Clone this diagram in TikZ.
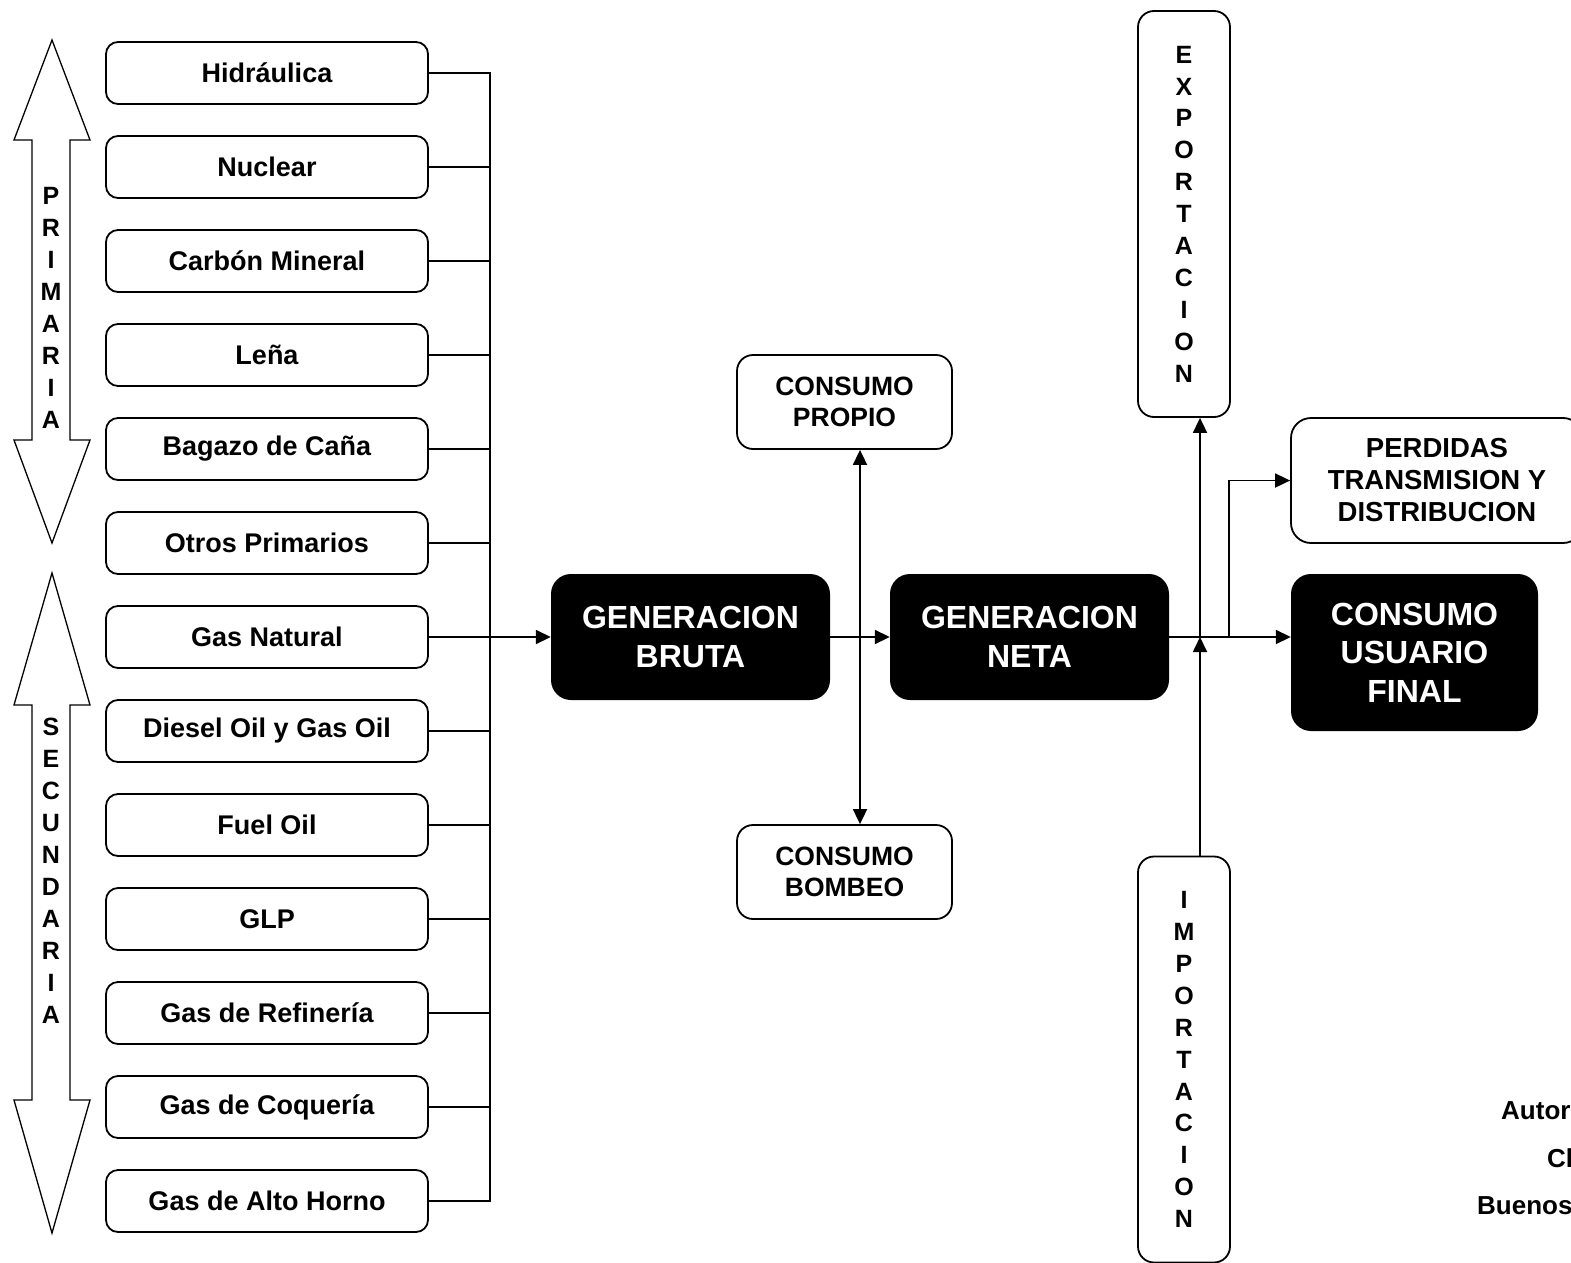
\documentclass[tikz,border=0pt]{standalone}
\usepackage{fontspec}
\setmainfont{Liberation Sans}
\usetikzlibrary{arrows.meta}
\begin{document}
\begin{tikzpicture}[x=1pt,y=-1pt,
  conn/.style={line width=1.8pt},
  arr/.style={conn,-{Triangle[length=15pt,width=14pt]}},
  srcbox/.style={draw,line width=1.8pt,rounded corners=12pt,minimum width=322pt,minimum height=62pt,inner sep=0pt,font=\fontsize{27}{30}\selectfont\bfseries},
  blackbox/.style={fill=black,text=white,rounded corners=20pt,inner sep=0pt,align=center,font=\fontsize{32}{38.5}\selectfont\bfseries},
  whitebox/.style={draw,line width=1.8pt,rounded corners=16pt,inner sep=0pt,align=center},
  vbox/.style={draw,line width=1.8pt,rounded corners=16pt,minimum width=92pt,minimum height=406pt,inner sep=0pt,align=center,font=\fontsize{25}{31.9}\selectfont\bfseries},
  dbl/.style={draw,line width=1.3pt,line join=miter},
  vlab/.style={align=center,inner sep=0pt,font=\fontsize{25}{32}\selectfont\bfseries},
  note/.style={anchor=west,inner sep=0pt,font=\fontsize{26}{30}\selectfont\bfseries}
]
\useasboundingbox (0,0) rectangle (1571,1263);
\clip (0,0) rectangle (1571,1263);

% double arrows
\path[dbl] (52,40) -- (90,140) -- (70,140) -- (70,440) -- (90,440) -- (52,543) -- (14,440) -- (32,440) -- (32,140) -- (14,140) -- cycle;
\node[vlab] (prim) at (51,307.5) {P\\R\\I\\M\\A\\R\\I\\A};
\path[dbl] (52,573) -- (90,705) -- (70,705) -- (70,1100) -- (90,1100) -- (52,1233) -- (14,1100) -- (32,1100) -- (32,705) -- (14,705) -- cycle;
\node[vlab] (sec) at (51,871) {S\\E\\C\\U\\N\\D\\A\\R\\I\\A};

% source boxes
\foreach \i/\t in {1/Hidráulica,2/Nuclear,3/Carbón Mineral,4/Leña,5/Bagazo de Caña,6/Otros Primarios,7/Gas Natural,8/Diesel Oil y Gas Oil,9/Fuel Oil,10/GLP,11/Gas de Refinería,12/Gas de Coquería,13/Gas de Alto Horno}
  \node[srcbox] (s\i) at (267,{73+94*(\i-1)}) {\t};

% bus
\coordinate (bt) at (490,73);
\coordinate (bb) at (490,1201);
\draw[conn] (s1.east) -- (bt) -- (bb) -- (s13.east);
\foreach \i in {2,3,4,5,6,8,9,10,11,12}
  \draw[conn] (s\i.east) -- (s\i.east -| bt);

% main boxes
\node[blackbox,minimum width=279pt,minimum height=126pt] (gb) at (690.5,637) {GENERACION\\BRUTA};
\node[blackbox,minimum width=279pt,minimum height=126pt] (gn) at (1029.5,637) {GENERACION\\NETA};
\node[blackbox,minimum width=247pt,minimum height=157pt] (cu) at (1414.5,652.5) {CONSUMO\\USUARIO\\FINAL};

\node[whitebox,minimum width=215pt,minimum height=94pt,font=\fontsize{26.5}{31}\selectfont\bfseries] (cp) at (844.5,402) {CONSUMO\\PROPIO};
\node[whitebox,minimum width=215pt,minimum height=94pt,font=\fontsize{26.5}{31}\selectfont\bfseries] (cb) at (844.5,872) {CONSUMO\\BOMBEO};
\node[whitebox,minimum width=292pt,minimum height=125pt,rounded corners=20pt,font=\fontsize{27.5}{32}\selectfont\bfseries] (pd) at (1437,480.5) {PERDIDAS\\TRANSMISION Y\\DISTRIBUCION};

\node[vbox] (exp) at (1184,214) {E\\X\\P\\O\\R\\T\\A\\C\\I\\O\\N};
\node[vbox] (imp) at (1184,1059.5) {I\\M\\P\\O\\R\\T\\A\\C\\I\\O\\N};

% connectors
\draw[arr] (s7.east) -- (gb.west);
\draw[arr] (gb.east) -- (gn.west);
\coordinate (m) at (860,637);
\draw[arr] (m) -- (m |- cp.south);
\draw[arr] (m) -- (m |- cb.north);
\draw[arr] (gn.east) -- (gn.east -| cu.west);
\coordinate (j) at (1200,637);
\draw[arr] (j) -- (j |- exp.south);
\draw[arr] (j |- imp.north) -- (j);
\coordinate (k) at (1229,637);
\draw[arr] (k) |- (pd.west);

% cropped notes
\node[note] (n1) at (1501,1111) {Autor};
\node[note] (n2) at (1547,1158) {Cl};
\node[note] (n3) at (1477,1206) {Buenos};
\end{tikzpicture}
\end{document}
